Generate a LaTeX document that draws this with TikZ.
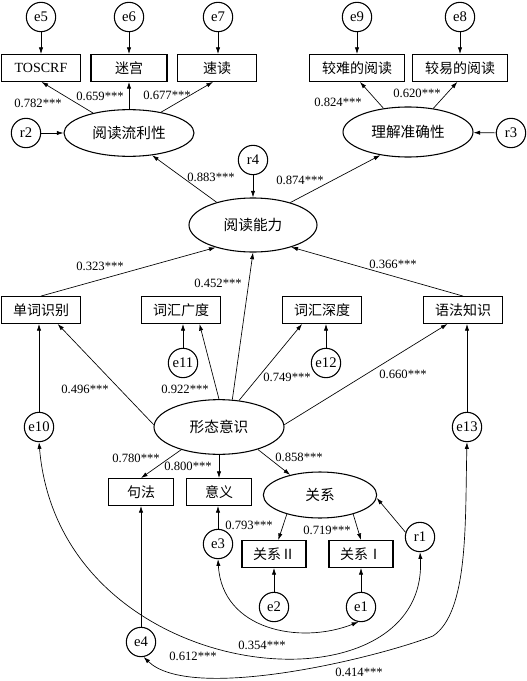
\documentclass[tikz,border=0pt]{standalone}
\usepackage{fontspec}
\setmainfont{Liberation Serif}
\newfontfamily\cjk{Noto Sans CJK SC}
\usetikzlibrary{arrows.meta,shapes.geometric,calc}
\tikzset{
  obs/.style={
    draw,
    line width=0.9pt,
    rectangle,
    minimum height=20pt,
    inner sep=0pt,
    font=\fontsize{10.5}{12}\selectfont\cjk
  },
  lat/.style={
    draw,
    line width=0.8pt,
    ellipse,
    inner sep=0pt,
    font=\fontsize{11}{13}\selectfont\cjk
  },
  err/.style={
    draw,
    line width=0.8pt,
    circle,
    minimum size=22pt,
    inner sep=0pt,
    font=\fontsize{11}{13}\selectfont
  },
  coef/.style={
    font=\fontsize{9.5}{11}\selectfont,
    inner sep=0pt
  },
  arrow/.style={-{Latex[length=5pt,width=3.2pt]},line width=0.5pt},
  cov/.style={{Latex[length=5pt,width=3.2pt]}-{Latex[length=5pt,width=3.2pt]},line width=0.5pt}
}

\begin{document}
\begin{tikzpicture}[x=0.75pt,y=-0.75pt]

\useasboundingbox (0,0) rectangle (527,681);

\node[err] (e5) at (41,17) {e5};
\node[err] (e6) at (129,17) {e6};
\node[err] (e7) at (218,17) {e7};
\node[err] (e9) at (357,17) {e9};
\node[err] (e8) at (460,17) {e8};

\node[obs,minimum width=59pt] (toscrf) at (41,68) {\rmfamily TOSCRF};
\node[obs,minimum width=57pt] (maze) at (129,68) {迷宫};
\node[obs,minimum width=59pt] (speed) at (217,68) {速读};
\node[obs,minimum width=71pt] (hard) at (357,68) {较难的阅读};
\node[obs,minimum width=71pt] (easy) at (460,68) {较易的阅读};

\node[lat,minimum width=97.5pt,minimum height=35pt] (flu) at (129,133) {阅读流利性};
\node[err] (r2) at (26,133) {r2};
\node[lat,minimum width=97.5pt,minimum height=37.5pt] (acc) at (408,132) {理解准确性};
\node[err] (r3) at (511,133) {r3};
\node[err] (r4) at (253,160) {r4};
\node[lat,minimum width=96pt,minimum height=40.5pt] (read) at (253,225) {阅读能力};

\node[obs,minimum width=59pt] (word) at (41,310) {单词识别};
\node[obs,minimum width=59pt] (vbr) at (181,310) {词汇广度};
\node[obs,minimum width=59pt] (vdp) at (322,310) {词汇深度};
\node[obs,minimum width=59pt] (gram) at (463,310) {语法知识};
\node[err] (e11) at (183,363) {e11};
\node[err] (e12) at (326,363) {e12};
\node[err] (e10) at (39,427) {e10};
\node[err] (e13) at (467,427) {e13};
\node[lat,minimum width=97.5pt,minimum height=41pt] (morph) at (219,427) {形态意识};

\node[obs,minimum width=49pt] (syn) at (141,492) {句法};
\node[obs,minimum width=49pt] (sem) at (219,492) {意义};
\node[lat,minimum width=85pt,minimum height=34.5pt] (rel) at (320,495) {关系};
\node[err] (e3) at (218,544) {e3};
\node[err] (r1) at (420,537) {r1};
\node[obs,minimum width=48pt] (relb) at (274,554) {关系Ⅱ};
\node[obs,minimum width=48pt] (rela) at (361,554) {关系Ⅰ};
\node[err] (e2) at (274,607) {e2};
\node[err] (e1) at (361,607) {e1};
\node[err] (e4) at (141,642) {e4};
\coordinate (bend) at (433,636);

\node[coef] (c782) at (38,103) {0.782***};
\node[coef] (c659) at (100,96) {0.659***};
\node[coef] (c677) at (167,95) {0.677***};
\node[coef] (c824) at (338,102) {0.824***};
\node[coef] (c620) at (417,93) {0.620***};
\node[coef] (c883) at (211,177) {0.883***};
\node[coef] (c874) at (300,180) {0.874***};
\node[coef] (c323) at (100,266) {0.323***};
\node[coef] (c452) at (218,283) {0.452***};
\node[coef] (c366) at (393,264) {0.366***};
\node[coef] (c496) at (85,389) {0.496***};
\node[coef] (c922) at (185,389) {0.922***};
\node[coef] (c749) at (287,377) {0.749***};
\node[coef] (c660) at (403,374) {0.660***};
\node[coef] (c780) at (136,458) {0.780***};
\node[coef] (c800) at (188,466) {0.800***};
\node[coef] (c858) at (299,457) {0.858***};
\node[coef] (c793) at (249,525) {0.793***};
\node[coef] (c719) at (327,530) {0.719***};
\node[coef] (c354) at (262,645) {0.354***};
\node[coef] (c612) at (193,656) {0.612***};
\node[coef] (c414) at (359,672) {0.414***};

\draw[arrow] (e5) -- (toscrf);
\draw[arrow] (e6) -- (maze);
\draw[arrow] (e7.south) -- (e7.south|-speed.north);
\draw[arrow] (e9) -- (hard);
\draw[arrow] (e8) -- (easy);

\draw[arrow] (flu.151) -- (toscrf.-88);
\draw[arrow] (flu.north) -- (maze.south);
\draw[arrow] (flu.33) -- (speed.-106);
\draw[arrow] (acc.136) -- (hard.-78);
\draw[arrow] (acc.43) -- (easy.-101);
\draw[arrow] (r2) -- (flu);
\draw[arrow] (r3) -- (acc);

\draw[arrow] (read.148) -- (flu.-44);
\draw[arrow] (read.31) -- (acc.-140);
\draw[arrow] (r4) -- (read);
\draw[arrow] (word.north) -- (read.-149);
\draw[arrow] (gram.north) -- (read.-30);
\draw[arrow] (morph.64) -- (read.south);

\draw[arrow] (morph.north) -- (vbr.-37);
\draw[arrow] (morph.53) -- (vdp.-145);
\draw[arrow] (morph.178) -- (word.-40);
\draw[arrow] (morph.2) -- (gram.-138);
\draw[arrow] (e11.north) -- (e11.north|-vbr.south);
\draw[arrow] (e12.north) -- (e12.north|-vdp.south);
\draw[arrow] (e10.north) -- (e10.north|-word.south);
\draw[arrow] (e13.north) -- (e13.north|-gram.south);

\draw[arrow] (morph.-149) -- (syn.north);
\draw[arrow] (morph.south) -- (sem.north);
\draw[arrow] (morph.-30) -- (rel.146);
\draw[arrow] (rel.-150) -- (relb.73);
\draw[arrow] (rel.-30) -- (rela.north);
\draw[arrow] (r1.162) -- (rel.-3);
\draw[arrow] (e3.north) -- (e3.north|-sem.south);
\draw[arrow] (e4.north) -- (e4.north|-syn.south);
\draw[arrow] (e2) -- (relb);
\draw[arrow] (e1) -- (rela);

\draw[cov] (e3.south) .. controls (222,630) and (300,645) .. (e1.-100);
\draw[cov] (e10.south) .. controls (60,690) and (430,720) .. (r1.south);
\draw[cov] (e4.-80) .. controls (190,702) and (370,660) .. (bend) .. controls (469,612) and (465,520) .. (e13.south);

\end{tikzpicture}
\end{document}
